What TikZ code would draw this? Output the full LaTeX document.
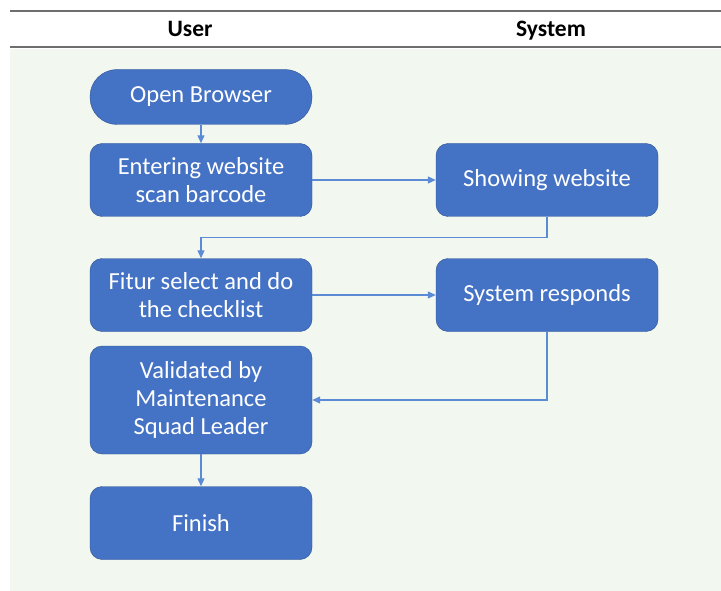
\documentclass[tikz,border=0pt]{standalone}
\usepackage{fontspec}
\setmainfont{Carlito}
\usetikzlibrary{arrows.meta,positioning}
\definecolor{boxblue}{RGB}{68,114,196}
\definecolor{boxedge}{RGB}{47,82,143}
\definecolor{lineblue}{RGB}{91,139,213}
\definecolor{lanebg}{RGB}{242,247,240}
\definecolor{rulegray}{RGB}{110,110,110}

\begin{document}
\begin{tikzpicture}[x=1pt, y=-1pt,
    stepbox/.style={draw=boxedge, fill=boxblue, rounded corners=12pt, minimum width=222pt, minimum height=73pt, align=center, text=white, inner sep=0pt, font=\fontsize{24.5}{28}\selectfont},
    head/.style={anchor=base, font=\fontsize{23.5}{28}\selectfont\bfseries},
    arr/.style={-{Triangle[length=8pt,width=7pt]}, draw=lineblue, line width=1.2pt}
]
\useasboundingbox (0,0) rectangle (721,591);
\fill[lanebg] (10,49) rectangle (721,591);
\draw[rulegray, line width=2pt] (10,11) -- (721,11);
\draw[rulegray, line width=2pt] (10,47) -- (721,47);

\node[head] (huser) at (190,37) {User};
\node[head] (hsys) at (551,37) {System};

\node[stepbox, rounded corners=27pt, minimum height=55pt] (open) at (201,97) {Open Browser};
\node[stepbox] (enter) at (201,180) {Entering website\\scan barcode};
\node[stepbox] (show) at (547,180) {Showing website};
\node[stepbox] (fitur) at (201,295) {Fitur select and do\\the checklist};
\node[stepbox] (resp) at (547,295) {System responds};
\node[stepbox, minimum height=108pt] (valid) at (201,400) {Validated by\\Maintenance\\Squad Leader};
\node[stepbox] (finish) at (201,523) {Finish};

\draw[arr] (open) -- (enter);
\draw[arr] (enter) -- (show);
\draw[arr] (show.south) -- ++(0,21) -| (fitur.north);
\draw[arr] (fitur) -- (resp);
\draw[arr] (resp.south) |- (valid.east);
\draw[arr] (valid) -- (finish);
\end{tikzpicture}
\end{document}
